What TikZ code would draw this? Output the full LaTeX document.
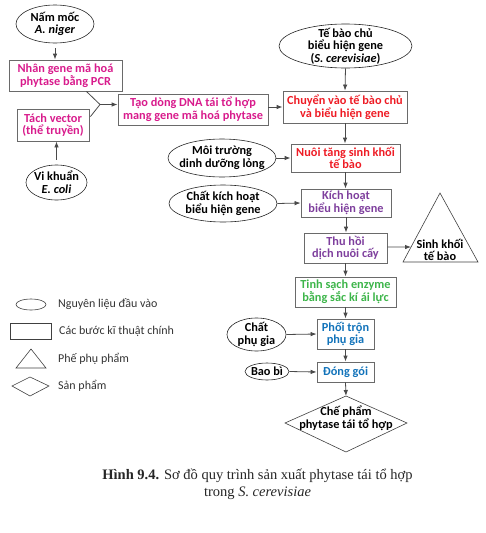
\documentclass[tikz,border=0pt]{standalone}
\usepackage{fontspec}
\setmainfont{Carlito}
\newfontfamily\capfont{Liberation Serif}
\usetikzlibrary{shapes.geometric,arrows.meta,calc}
\definecolor{cmag}{HTML}{D81B8C}
\definecolor{cred}{HTML}{EE1C25}
\definecolor{cpur}{HTML}{7E3F9D}
\definecolor{cgrn}{HTML}{3DB54A}
\definecolor{cblu}{HTML}{1273BA}
\definecolor{cline}{HTML}{4A4A4A}
\definecolor{cbox}{HTML}{6A6A6A}
\tikzset{
  x=1pt, y=-1pt,
  nfont/.style={font=\bfseries\fontsize{12.3}{12.6}\selectfont},
  box/.style={draw=cbox, line width=0.8pt, rectangle, inner xsep=1pt, inner ysep=0pt, align=center, nfont},
  ell/.style={draw=black!85, line width=0.6pt, ellipse, inner sep=0pt},
  lbl/.style={align=center, nfont, text=black, inner sep=0pt},
  arr/.style={draw=cline, line width=0.8pt, -{Latex[length=6pt,width=4.5pt]}},
  plain/.style={draw=cline, line width=0.8pt},
  legtxt/.style={anchor=west, inner sep=0pt, font=\fontsize{12}{13}\selectfont, text=black!80},
  legshape/.style={draw=black!75, line width=0.6pt}
}
\begin{document}
\begin{tikzpicture}
\useasboundingbox (0,0) rectangle (485,533);
% ---- left branch
\node[ell, minimum width=78pt, minimum height=38pt, label={[lbl]center:{Nấm mốc\\\textit{A. niger}}}] (nam) at (55,24) {};
\node[box, text=cmag, minimum width=113pt, minimum height=31pt] (nb) at (65.5,75.5) {Nhân gene mã hoá\\phytase bằng PCR};
\node[box, text=cmag, minimum width=72pt, minimum height=32pt] (tv) at (53,125) {Tách vector\\(thể truyền)};
\node[ell, minimum width=61pt, minimum height=35pt, label={[lbl]center:{Vi khuẩn\\\textit{E. coli}}}] (vk) at (56.5,182.5) {};
\node[box, text=cmag, minimum width=150pt, minimum height=31pt] (td) at (193,109.5) {Tạo dòng DNA tái tổ hợp\\mang gene mã hoá phytase};
\coordinate (j) at (100,104.5);
% ---- main column
\node[ell, minimum width=133pt, minimum height=44pt, label={[lbl]center:{Tế bào chủ\\biểu hiện gene\\(\textit{S. cerevisiae})}}] (tb) at (345.5,46) {};
\node[box, text=cred, minimum width=124pt, minimum height=32pt] (cv) at (345,107) {Chuyển vào tế bào chủ\\và biểu hiện gene};
\node[box, text=cred, minimum width=109pt, minimum height=28pt] (nt) at (345.5,158) {Nuôi tăng sinh khối\\tế bào};
\node[ell, minimum width=108pt, minimum height=38pt, label={[lbl]center:{Môi trường\\dinh dưỡng lỏng}}] (mt) at (222,158) {};
\node[box, text=cpur, minimum width=90pt, minimum height=28pt] (kh) at (346,203) {Kích hoạt\\biểu hiện gene};
\node[ell, minimum width=108pt, minimum height=37pt, label={[lbl]center:{Chất kích hoạt\\biểu hiện gene}}] (ck) at (223,203.5) {};
\node[box, text=cpur, minimum width=83pt, minimum height=30pt] (th) at (345.5,248) {Thu hồi\\dịch nuôi cấy};
\node[box, text=cgrn, minimum width=101pt, minimum height=30pt] (ts) at (345.5,292) {Tinh sạch enzyme\\bằng sắc kí ái lực};
\node[box, text=cblu, minimum width=57pt, minimum height=30pt] (pt) at (345.5,334) {Phối trộn\\phụ gia};
\node[ell, minimum width=59pt, minimum height=33pt, label={[lbl]center:{Chất\\phụ gia}}] (cp) at (256.5,334.5) {};
\node[box, text=cblu, minimum width=57pt, minimum height=20pt] (dg) at (345.5,372) {Đóng gói};
\node[ell, minimum width=44pt, minimum height=17pt, label={[lbl]center:{Bao bì}}] (bb) at (267,371.5) {};
% triangle
\coordinate (tA) at (440,193);
\coordinate (tL) at (403,262);
\coordinate (tR) at (478,262);
\draw[legshape] (tA) -- (tL) -- (tR) -- cycle;
\node[lbl] (sk) at (440,250) {Sinh khối\\tế bào};
% diamond
\coordinate (dT) at (346,396);
\coordinate (dL) at (285,423);
\coordinate (dB) at (346,452);
\coordinate (dR) at (407,423);
\draw[legshape] (dT) -- (dR) -- (dB) -- (dL) -- cycle;
\node[lbl] (cph) at (346,418) {Chế phẩm\\phytase tái tổ hợp};
% ---- connectors
\draw[arr, shorten <=5pt] (nam.south) -- (nam.south |- nb.north);
\draw[arr, shorten <=5pt] (vk.north) -- (vk.north |- tv.south);
\draw[plain] ($(nb.south east)+(-36,0)$) -- (j);
\draw[plain] ($(tv.north east)+(1,8)$) -- (j);
\draw[arr] (j) -- (j -| td.west);
\draw[arr] (td.east |- cv.west) -- (cv.west);
\draw[arr] (tb.south) -- (cv.north);
\draw[arr] (cv.south) -- (cv.south |- nt.north);
\draw[arr] (mt.east) -- (nt.west);
\draw[arr] (nt.south) -- (nt.south |- kh.north);
\draw[arr] (ck.east) -- (kh.west);
\draw[arr] (kh.south) -- (kh.south |- th.north);
\draw[arr] ($(th.east)+(0,-1)$) -- ($(tA)!0.783!(tL)$);
\draw[arr] (th.south) -- (ts.north);
\draw[arr] (ts.south) -- (pt.north);
\draw[arr] (cp.east) -- (pt.west);
\draw[arr] (pt.south) -- (dg.north);
\draw[arr] (bb.east) -- (dg.west);
\draw[arr] (dg.south) -- (dT);
% ---- legend
\node[legshape, ellipse, minimum width=30pt, minimum height=11pt, inner sep=0pt] (le) at (31,304.5) {};
\node[legtxt] (let) at (58,304.5) {Nguyên liệu đầu vào};
\node[legshape, rectangle, minimum width=41pt, minimum height=16pt, inner sep=0pt] (lr) at (30.5,331) {};
\node[legtxt] (lrt) at (59,331) {Các bước kĩ thuật chính};
\draw[legshape] (31,349) -- (16,368) -- (46,368) -- cycle;
\node[legtxt] (ltt) at (58,358.5) {Phế phụ phẩm};
\draw[legshape] (12,386) -- (30,377) -- (49,386) -- (30,396) -- cycle;
\node[legtxt] (ldt) at (58,386) {Sản phẩm};
% ---- caption
\node[inner sep=0pt, align=center, font=\capfont\fontsize{14.5}{17}\selectfont, text=black!85] (cap) at (257.5,484.5) {\textbf{Hình 9.4.} Sơ đồ quy trình sản xuất phytase tái tổ hợp\\trong \textit{S. cerevisiae}};
\end{tikzpicture}
\end{document}
